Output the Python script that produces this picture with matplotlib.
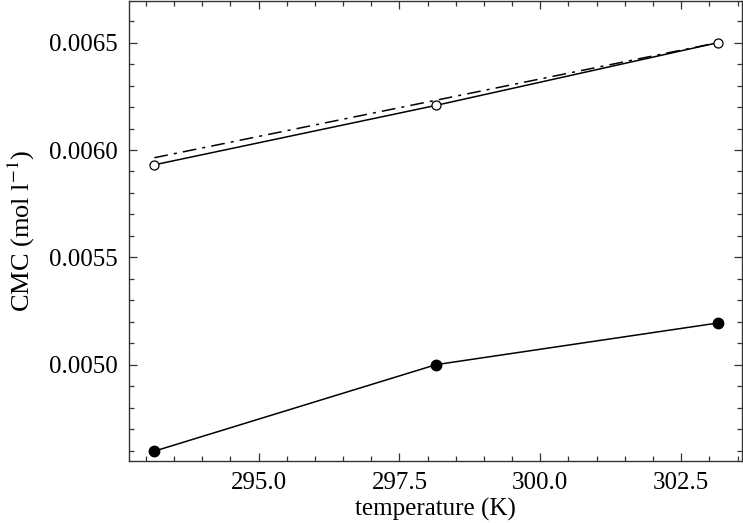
import matplotlib
matplotlib.use("Agg")
import matplotlib.pyplot as plt
from matplotlib.ticker import MultipleLocator, FormatStrFormatter

# data
temperature = [293.15, 298.15, 303.15]
cmc_open = [0.005931, 0.006208, 0.006500]
cmc_filled = [0.004597, 0.005000, 0.005194]
fit_temperature = [293.15, 303.15]
fit_cmc = [0.005964, 0.006500]

plt.rcParams['font.family'] = ['Liberation Serif', 'DejaVu Serif']
plt.rcParams['mathtext.fontset'] = 'stix'

fig = plt.figure(figsize=(7.43, 5.23), dpi=100)
ax = fig.add_axes([0.1736, 0.1185, 0.8251, 0.8795])

ax.plot(fit_temperature, fit_cmc, color='black', lw=1.1, dashes=(9, 4, 2, 4))
ax.plot(temperature, cmc_open, '-o', color='black', lw=1.1,
        mfc='white', mec='black', ms=6.5, mew=0.9)
ax.plot(temperature, cmc_filled, '-o', color='black', lw=1.1,
        mfc='black', mec='black', ms=7.5)

ax.set_xlim(292.70, 303.58)
ax.set_ylim(0.004551, 0.006694)

ax.xaxis.set_major_locator(MultipleLocator(2.5))
ax.xaxis.set_minor_locator(MultipleLocator(0.5))
ax.xaxis.set_major_formatter(FormatStrFormatter('%.1f'))
ax.yaxis.set_major_locator(MultipleLocator(0.0005))
ax.yaxis.set_minor_locator(MultipleLocator(0.0001))
ax.yaxis.set_major_formatter(FormatStrFormatter('%.4f'))

ax.tick_params(which='both', direction='in', top=True, right=True,
               labelsize=18, width=0.9, color='#333333')
ax.tick_params(which='major', length=6, pad=8)
ax.tick_params(which='minor', length=3.5)
for s in ax.spines.values():
    s.set_linewidth(1.0)
    s.set_color('#333333')

ax.set_xlabel('temperature (K)', fontsize=18, labelpad=3)
ax.set_ylabel('CMC (mol l$^{-1}$)', fontsize=19, labelpad=9)

fig.savefig('out.png', dpi=100)
